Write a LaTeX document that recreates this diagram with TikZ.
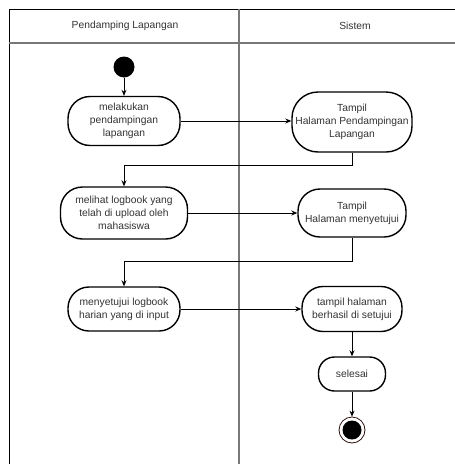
\documentclass[tikz,border=0pt]{standalone}
\usepackage{fontspec}
\setmainfont{Liberation Sans}
\usetikzlibrary{arrows.meta}
\definecolor{txtgrey}{RGB}{51,51,51}
\definecolor{lanegrey}{RGB}{120,120,120}
\definecolor{endring}{RGB}{45,15,15}

\begin{document}
\begin{tikzpicture}[x=1pt, y=-1pt,
    font=\fontsize{10.3}{13.3}\selectfont,
    act/.style={draw, line width=1.4pt, rounded corners=22pt, align=center,
        inner sep=0pt, text=txtgrey},
    flow/.style={-{Stealth[length=6pt,width=5pt]}, line width=0.8pt},
    lane/.style={lanegrey, line width=1.1pt}]
    \useasboundingbox (0, 0) rectangle (455, 464);

    \draw[line width=1pt] (9, 464) -- (9, 9) -- (455, 9);
    \draw[lane] (9, 43) -- (455, 43);
    \draw[lane] (239, 9) -- (239, 464);
    \node[text=txtgrey] (hpl) at (125, 26) {Pendamping Lapangan};
    \node[text=txtgrey] (hsys) at (355, 26) {Sistem};

    \node[circle, fill=black, minimum size=21pt, inner sep=0pt] (start) at (124, 67) {};

    \node[act, minimum width=112pt, minimum height=49pt] (lakukan) at (124, 121)
        {melakukan\\pendampingan\\lapangan};
    \node[act, minimum width=120pt, minimum height=60pt, rounded corners=26pt] (tampilpd) at (352, 122)
        {Tampil\\Halaman Pendampingan\\Lapangan};

    \node[act, minimum width=127pt, minimum height=52pt] (lihat) at (124, 213)
        {melihat logbook yang\\telah di upload oleh\\mahasiswa};
    \node[act, minimum width=108pt, minimum height=48pt] (tampilsetuju) at (352, 213)
        {Tampil\\Halaman menyetujui};

    \node[act, minimum width=112pt, minimum height=44pt, rounded corners=21pt] (setujui) at (124, 309)
        {menyetujui logbook\\harian yang di input};
    \node[act, minimum width=100pt, minimum height=45pt, rounded corners=21pt] (berhasil) at (352, 309)
        {tampil halaman\\berhasil di setujui};

    \node[act, minimum width=67pt, minimum height=34pt, rounded corners=16pt] (selesai) at (352, 374)
        {selesai};

    \node[circle, draw=endring, line width=0.8pt, minimum size=26pt, inner sep=0pt] (stop) at (352, 430) {};
    \node[circle, fill=black, minimum size=19pt, inner sep=0pt] (stopdot) at (352, 430) {};

    \draw[flow] (start) -- (lakukan);
    \draw[flow] (lakukan.east) -- (lakukan.east -| tampilpd.west);
    \draw[flow] (tampilpd.south) -- ++(0, 13) -| (lihat.north);
    \draw[flow] (lihat.east) -- (lihat.east -| tampilsetuju.west);
    \draw[flow] (tampilsetuju.south) -- ++(0, 24) -| (setujui.north);
    \draw[flow] (setujui.east) -- (setujui.east -| berhasil.west);
    \draw[flow] (berhasil) -- (selesai);
    \draw[flow] (selesai) -- (stop);
\end{tikzpicture}
\end{document}
